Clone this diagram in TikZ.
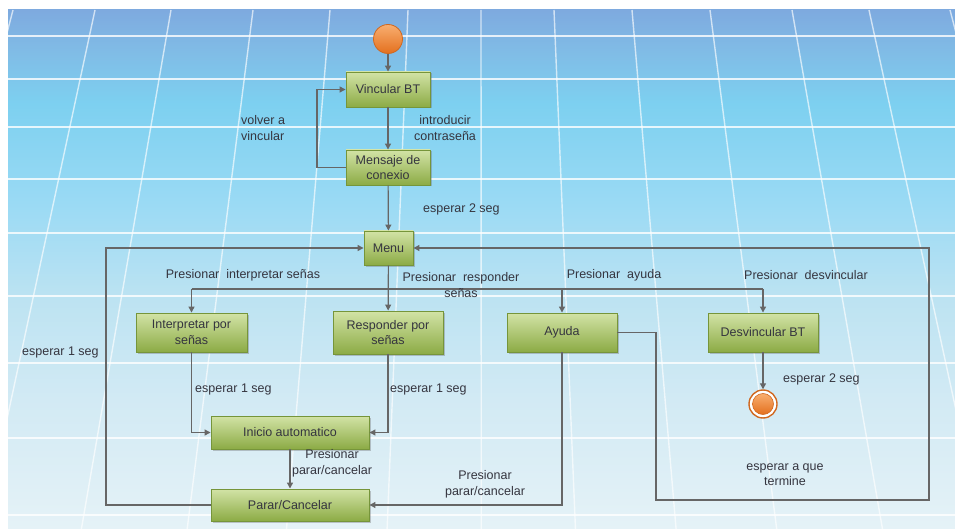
\documentclass[tikz,border=0pt]{standalone}
\usepackage{fontspec}
\setmainfont{Liberation Sans}
\usetikzlibrary{arrows.meta,shadows}
\definecolor{bgA}{HTML}{7EAADF}
\definecolor{bgB}{HTML}{80BCE6}
\definecolor{bgC}{HTML}{7DD0F0}
\definecolor{bgD}{HTML}{9ADAF4}
\definecolor{bgE}{HTML}{BDE3F2}
\definecolor{bgF}{HTML}{D2EAF4}
\definecolor{bgG}{HTML}{E5F2F7}
\definecolor{boxtop}{HTML}{D2E3A6}
\definecolor{boxbot}{HTML}{8CAB45}
\definecolor{boxline}{HTML}{76953A}
\definecolor{ortop}{HTML}{F8AE70}
\definecolor{orbot}{HTML}{E4701E}
\definecolor{orline}{HTML}{D06820}
\definecolor{arrcol}{HTML}{666666}
\definecolor{txtcol}{HTML}{35353F}
\pgfdeclareverticalshading{bgsh}{100bp}{color(0bp)=(bgG); color(25bp)=(bgG); color(37.5bp)=(bgF); color(47bp)=(bgE); color(56.5bp)=(bgD); color(66bp)=(bgC); color(71bp)=(bgB); color(75bp)=(bgA); color(100bp)=(bgA)}
\tikzset{
  statebox/.style={draw=boxline, line width=0.9pt, top color=boxtop, bottom color=boxbot,
    rectangle, align=center, inner sep=2pt, text=txtcol,
    font=\fontsize{12.5}{15.5}\selectfont,
    drop shadow={shadow xshift=1.5pt, shadow yshift=-1.5pt, opacity=0.35, fill=black!60}},
  startdot/.style={circle, draw=orline, line width=0.8pt, top color=ortop, bottom color=orbot, minimum size=29pt, inner sep=0pt},
  lbl/.style={text=txtcol, font=\fontsize{12.5}{15.5}\selectfont, inner sep=0pt, align=center},
  conn/.style={draw=arrcol, line width=1.2pt},
  arr/.style={conn, -{Triangle[length=6pt,width=6pt]}},
  gridline/.style={draw=white, line width=1.4pt, opacity=0.8}
}
\begin{document}
\begin{tikzpicture}[x=1pt,y=-1pt]
\useasboundingbox (0,0) rectangle (955,529);
\fill[white] (0,0) rectangle (955,529);
\begin{scope}[y=1pt]
\shade[shading=bgsh] (8,-529) rectangle (955,-10);
\end{scope}
\begin{scope}
\clip (8,10) rectangle (955,529);
\foreach \yy in {36,79,127,179,233,296,363,438,515} \draw[gridline] (8,\yy) -- (955,\yy);
\foreach \xt in {13,95,171,253,330,408,481,554,632,710,792,869,950,1028} {
  \pgfmathsetmacro{\xb}{480+(\xt-480)*1.29}
  \draw[gridline, opacity=0.65] (\xt,10) -- (\xb,529);
}
\end{scope}

% nodes
\node[startdot] (start) at (388,39) {};
\node[statebox, minimum width=84pt, minimum height=35pt] (vinc) at (388,89.5) {Vincular BT};
\node[statebox, minimum width=84pt, minimum height=35pt] (mens) at (388,167.5) {Mensaje de\\conexio};
\node[statebox, minimum width=49pt, minimum height=34pt] (menu) at (388.5,248) {Menu};
\node[statebox, minimum width=111pt, minimum height=39pt] (interp) at (191.5,332.5) {Interpretar por\\señas};
\node[statebox, minimum width=110pt, minimum height=43pt] (resp) at (388,332.5) {Responder por\\señas};
\node[statebox, minimum width=110pt, minimum height=39pt] (ayuda) at (562,332.5) {Ayuda};
\node[statebox, minimum width=110pt, minimum height=39pt] (desv) at (763,332.5) {Desvincular BT};
\node[statebox, minimum width=158pt, minimum height=33pt] (inicio) at (290,432.5) {Inicio automatico};
\node[statebox, minimum width=158pt, minimum height=32pt] (parar) at (290,505) {Parar/Cancelar};
\node[circle, draw=orline, line width=1.4pt, fill=white, minimum size=28pt, inner sep=0pt] (endc) at (763,404) {};
\node[circle, draw=orline, line width=0.6pt, top color=ortop, bottom color=orbot, minimum size=21pt, inner sep=0pt] (endin) at (endc) {};

% helper coordinates
\coordinate (loopx) at (317,0);
\coordinate (leftx) at (106,0);
\coordinate (br) at (0,289);
\coordinate (rx) at (929,0);
\coordinate (ax) at (656,0);
\coordinate (bot) at (0,500);

% connectors
\draw[arr] (start) -- (vinc);
\draw[arr] (vinc) -- (mens);
\draw[arr] (mens.west) -- (mens.west -| loopx) |- (vinc.west);
\draw[arr] (mens) -- (menu);
\draw[arr] (parar.west) -- (parar.west -| leftx) |- (menu.west);
\draw[arr] (menu) -- (resp);
\draw[conn] (br -| interp.north) -- (br -| desv.north);
\draw[arr] (br -| interp.north) -- (interp.north);
\draw[arr] (br -| ayuda.north) -- (ayuda.north);
\draw[arr] (br -| desv.north) -- (desv.north);
\draw[arr] (ayuda.east) -- (ayuda.east -| ax) -- (bot -| ax) -- (bot -| rx) |- (menu.east);
\draw[arr] (desv) -- (endc);
\draw[arr] (interp.south) |- (inicio.west);
\draw[arr] (resp.south) |- (inicio.east);
\draw[arr] (inicio) -- (parar);
\draw[arr] (ayuda.south) |- (parar.east);

% labels
\node[lbl, anchor=west, align=left] (l1) at (241,128) {volver a\\vincular};
\node[lbl] (l2) at (445,128) {introducir\\contraseña};
\node[lbl, anchor=west] (l3) at (423,209) {esperar 2 seg};
\node[lbl] (l4) at (243,275) {Presionar~~interpretar señas};
\node[lbl] (l5) at (461,285) {Presionar~~responder\\señas};
\node[lbl] (l6) at (614,275) {Presionar~~ayuda};
\node[lbl] (l7) at (806,275) {Presionar~~desvincular};
\node[lbl, anchor=west] (l8) at (22,352) {esperar 1 seg};
\node[lbl, anchor=west] (l9) at (195,389) {esperar 1 seg};
\node[lbl, anchor=west] (l10) at (390,389) {esperar 1 seg};
\node[lbl] (l11) at (332,463.5) {Presionar\\parar/cancelar};
\node[lbl] (l12) at (485,484.5) {Presionar\\parar/cancelar};
\node[lbl, anchor=west] (l13) at (783,379) {esperar 2 seg};
\node[lbl] (l14) at (785,474.5) {esperar a que\\termine};
\end{tikzpicture}
\end{document}
